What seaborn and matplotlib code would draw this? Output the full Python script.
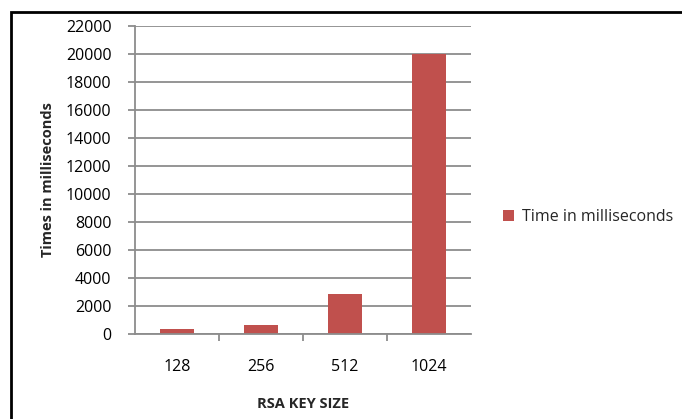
import matplotlib
matplotlib.use("Agg")
import matplotlib.pyplot as plt
import seaborn as sns
import pandas as pd
from matplotlib.patches import Rectangle

key_sizes = ["128", "256", "512", "1024"]
times_ms = [300, 600, 2850, 20050]
series_name = "Time in milliseconds"

sns.set_theme(style="white")
plt.rcParams['font.family'] = ['Open Sans', 'DejaVu Sans']

df = pd.DataFrame({"size": key_sizes, "time": times_ms, "series": series_name})

fig = plt.figure(figsize=(6.82, 4.19), dpi=100)
ax = fig.add_axes([135 / 682, 1 - 333.5 / 419, 336 / 682, (333.5 - 26.3) / 419])

sns.barplot(data=df, x="size", y="time", hue="series", palette=["#C0504D"],
            width=0.4, ax=ax, saturation=1, edgecolor="none")

ax.set_ylim(0, 22000)
ax.set_xlim(-0.5, 3.5)
ax.set_yticks(range(0, 22001, 2000))
ax.yaxis.grid(True, color="#8C8C8C", linewidth=1.3)
ax.set_axisbelow(True)
for s in ["top", "right"]:
    ax.spines[s].set_visible(False)
for s in ["left", "bottom"]:
    ax.spines[s].set_color("#8C8C8C")
    ax.spines[s].set_linewidth(1.3)

ax.tick_params(axis="y", direction="out", length=5, width=1.3, color="#8C8C8C",
               labelsize=11.5, labelcolor="black", pad=12, left=True)
ax.tick_params(axis="x", which="major", length=0, labelsize=11.5, pad=18, labelcolor="black")
ax.set_xticks([0.5, 1.5, 2.5], minor=True)
ax.tick_params(axis="x", which="minor", direction="out", length=5, width=1.3,
               color="#8C8C8C", bottom=True)

ax.set_xlabel("RSA KEY SIZE", fontsize=10.5, fontweight="bold", labelpad=16)
ax.set_ylabel("Times in milliseconds", fontsize=10.5, fontweight="bold", labelpad=8)

ax.legend(handles=ax.get_legend_handles_labels()[0], labels=[series_name],
          loc="center left", bbox_to_anchor=(1.07, 0.38), frameon=False,
          fontsize=11.5, handlelength=0.7, handleheight=0.7, handletextpad=0.5,
          borderpad=0)

fig.patches.append(Rectangle((11 / 682, -0.05), 1.0, 1 - 12 / 419 + 0.05,
                             transform=fig.transFigure, fill=False,
                             edgecolor="black", linewidth=2, zorder=10))

fig.savefig("out.png", dpi=100)
